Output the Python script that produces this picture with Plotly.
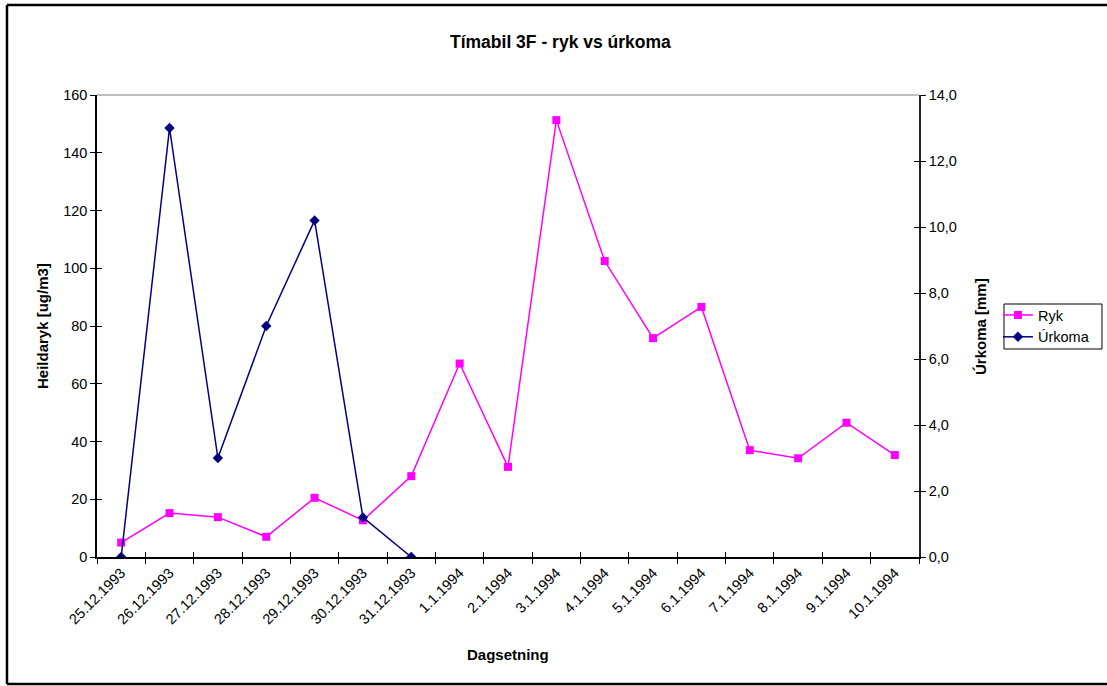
import plotly.graph_objects as go

# categories and series
dates = [
    "25.12.1993", "26.12.1993", "27.12.1993", "28.12.1993", "29.12.1993",
    "30.12.1993", "31.12.1993", "1.1.1994", "2.1.1994", "3.1.1994",
    "4.1.1994", "5.1.1994", "6.1.1994", "7.1.1994", "8.1.1994",
    "9.1.1994", "10.1.1994",
]
ryk = [5.0, 15.2, 13.8, 7.0, 20.5, 12.7, 28.0, 67.0, 31.2, 151.3,
       102.5, 75.8, 86.6, 37.0, 34.2, 46.5, 35.3]
urkoma = [0.0, 13.0, 3.0, 7.0, 10.2, 1.2, 0.0]
urkoma_dates = dates[:7]

FONT = "Liberation Sans, Arial, sans-serif"

fig = go.Figure()

fig.add_trace(go.Scatter(
    x=dates, y=ryk, name="Ryk", mode="lines+markers",
    line=dict(color="#ff00ff", width=1.5),
    marker=dict(symbol="square", size=8, color="#ff00ff"),
))
fig.add_trace(go.Scatter(
    x=urkoma_dates, y=urkoma, name="Úrkoma", mode="lines+markers",
    yaxis="y2",
    line=dict(color="#000080", width=1.5),
    marker=dict(symbol="diamond", size=8, color="#000080"),
))
# invisible helpers so the overlay axes (inner half of the cross ticks) render
fig.add_trace(go.Scatter(x=dates, y=[None] * len(dates), xaxis="x3", yaxis="y3",
                         showlegend=False, hoverinfo="skip"))
fig.add_trace(go.Scatter(x=dates, y=[None] * len(dates), xaxis="x3", yaxis="y4",
                         showlegend=False, hoverinfo="skip"))

tick_font = dict(family=FONT, size=14.5, color="black")
title_font = dict(family=FONT, size=15, color="black")

fig.update_layout(
    width=1107,
    height=686,
    margin=dict(l=97, r=188, t=95, b=129, autoexpand=False),
    paper_bgcolor="white",
    plot_bgcolor="white",
    separators=",.",
    font=dict(family=FONT, size=14.5, color="black"),
    xaxis=dict(
        type="category", categoryarray=dates, range=[-0.5, 16.5],
        tickson="boundaries", ticks="outside", ticklen=5, tickwidth=1,
        tickcolor="black", tickangle=-45, tickfont=tick_font,
        showline=True, linecolor="black", linewidth=1.5,
        showgrid=False, zeroline=False,
    ),
    xaxis3=dict(
        type="category", categoryarray=dates, range=[-0.5, 16.5],
        overlaying="x", anchor="y", tickson="boundaries",
        ticks="inside", ticklen=5, tickwidth=1, tickcolor="black",
        showticklabels=False, showgrid=False, zeroline=False, showline=False,
    ),
    yaxis=dict(
        range=[0, 160], dtick=20, ticks="outside", ticklen=5, tickwidth=1,
        tickcolor="black", tickfont=tick_font,
        showline=True, linecolor="black", linewidth=1.5,
        showgrid=False, zeroline=False,
    ),
    yaxis2=dict(
        range=[0, 14], dtick=2, tickformat=".1f", overlaying="y", side="right",
        ticks="outside", ticklen=5, tickwidth=1, tickcolor="black",
        tickfont=tick_font, showline=True, linecolor="#222222", linewidth=1.5,
        showgrid=False, zeroline=False,
    ),
    yaxis3=dict(
        range=[0, 160], dtick=20, overlaying="y", side="left", anchor="x3",
        ticks="inside", ticklen=5, tickwidth=1, tickcolor="black",
        showticklabels=False, showgrid=False, zeroline=False, showline=False,
    ),
    yaxis4=dict(
        range=[0, 14], dtick=2, overlaying="y", side="right", anchor="x3",
        ticks="inside", ticklen=5, tickwidth=1, tickcolor="black",
        showticklabels=False, showgrid=False, zeroline=False, showline=False,
    ),
    # legend frame is drawn as a shape below (plotly's own padding is too tall)
    legend=dict(
        xref="container", yref="container",
        x=0.9015, y=0.5641, xanchor="left", yanchor="top",
        borderwidth=0, bgcolor="rgba(0,0,0,0)",
        font=dict(family=FONT, size=14.5, color="black"),
        tracegroupgap=0, itemwidth=30,
    ),
    showlegend=True,
)

frame = dict(color="black", width=2.5)
left, right, top, bottom = -0.1095, 1.2287, 1.1948, -0.2749

# plot-area top border, legend box and outer chart frame (no right edge, as in the original)
fig.add_shape(type="line", xref="paper", yref="paper", x0=0, x1=1, y0=1, y1=1,
              line=dict(color="#808080", width=1))
fig.add_shape(type="rect", xref="paper", yref="paper",
              x0=1.1034, x1=1.2226, y0=0.4502, y1=0.5476,
              line=dict(color="black", width=1))
fig.add_shape(type="line", xref="paper", yref="paper", x0=left, x1=left, y0=bottom, y1=top,
              line=frame)
fig.add_shape(type="line", xref="paper", yref="paper", x0=left, x1=right, y0=top, y1=top,
              line=frame)
fig.add_shape(type="line", xref="paper", yref="paper", x0=left, x1=right, y0=bottom, y1=bottom,
              line=frame)

fig.add_annotation(text="<b>Tímabil 3F - ryk vs úrkoma</b>", xref="paper", yref="paper",
                   x=0.5633, y=1.1147, xanchor="center", yanchor="middle",
                   showarrow=False, font=dict(family=FONT, size=17.5, color="black"))
fig.add_annotation(text="<b>Heildaryk [ug/m3]</b>", xref="paper", yref="paper",
                   x=-0.0669, y=0.5, xanchor="center", yanchor="middle",
                   textangle=-90, showarrow=False, font=title_font)
fig.add_annotation(text="<b>Úrkoma [mm]</b>", xref="paper", yref="paper",
                   x=1.0742, y=0.5, xanchor="center", yanchor="middle",
                   textangle=-90, showarrow=False, font=title_font)
fig.add_annotation(text="<b>Dagsetning</b>", xref="paper", yref="paper",
                   x=0.5, y=-0.2121, xanchor="center", yanchor="middle",
                   showarrow=False, font=title_font)

# no page margin and no scrollbars, so the chart sits at the window origin
page_fix = (
    "document.body.style.margin='0px';"
    "document.body.style.overflow='hidden';"
    "document.documentElement.style.overflow='hidden';"
)
fig.write_html("out.html", config={"displayModeBar": False}, post_script=page_fix)
